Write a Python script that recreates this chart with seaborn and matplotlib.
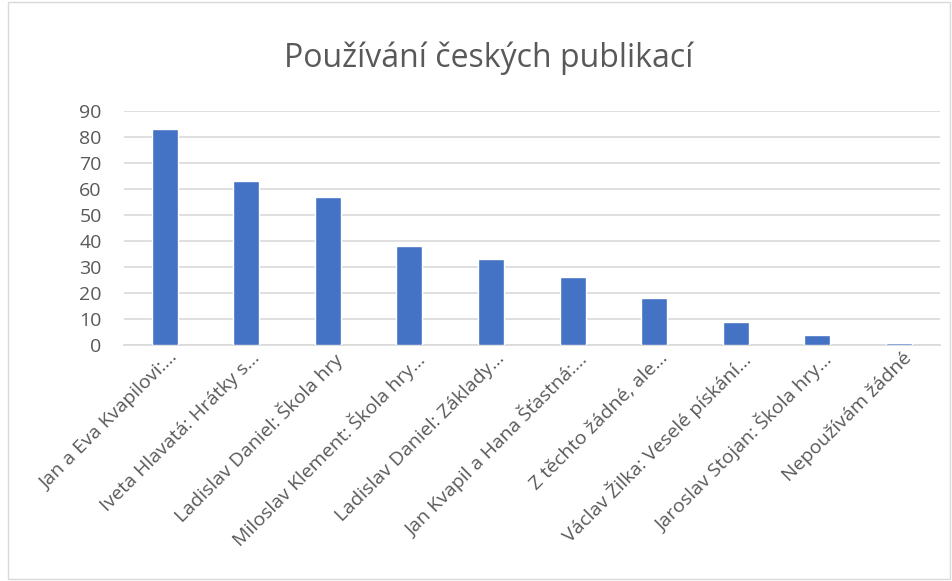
import pandas as pd
import matplotlib.pyplot as plt
import seaborn as sns
from matplotlib.patches import Rectangle
from matplotlib.transforms import ScaledTranslation

# Data
publikace = [
    "Jan a Eva Kvapilovi:…",
    "Iveta Hlavatá: Hrátky s…",
    "Ladislav Daniel: Škola hry",
    "Miloslav Klement: Škola hry…",
    "Ladislav Daniel: Základy…",
    "Jan Kvapil a Hana Šťastná:…",
    "Z těchto žádné, ale…",
    "Václav Žilka: Veselé pískání…",
    "Jaroslav Stojan: Škola hry…",
    "Nepoužívám žádné",
]
pocet = [83, 63, 57, 38, 33, 26, 18, 9, 4, 1]
y_ticks = [0, 10, 20, 30, 40, 50, 60, 70, 80, 90]

df = pd.DataFrame({"publikace": publikace, "pocet": pocet})

sns.set_style("white")
plt.rcParams['font.family'] = ['Open Sans', 'DejaVu Sans']

fig = plt.figure(figsize=(9.53, 5.81), dpi=100)
ax = fig.add_axes([0.130, 0.406, 0.856, 0.403])

sns.barplot(data=df, x="publikace", y="pocet", color="#4472C4",
            width=0.32, saturation=1, ax=ax, zorder=3)

ax.set_ylim(0, 90)
ax.set_xlim(-0.5, 9.5)
ax.set_yticks(y_ticks)
ax.yaxis.grid(True, color="#d9d9d9", linewidth=1.2, zorder=0)
ax.set_axisbelow(True)
for s in ["top", "right", "left"]:
    ax.spines[s].set_visible(False)
ax.spines["bottom"].set_color("#d9d9d9")
ax.spines["bottom"].set_linewidth(1.2)
ax.tick_params(axis="both", length=0, colors="#595959", labelsize=14)
ax.tick_params(axis="y", pad=16)
ax.set_xlabel("")
ax.set_ylabel("")
ax.set_xticks(range(len(publikace)))
ax.set_xticklabels(publikace, rotation=45, ha="right", rotation_mode="anchor")
shift = ScaledTranslation(4 / 100, 4 / 100, fig.dpi_scale_trans)
for lbl in ax.get_xticklabels():
    lbl.set_y(-0.012)
    lbl.set_transform(lbl.get_transform() + shift)

fig.text(0.513, 0.90, "Používání českých publikací", ha="center", va="center",
         fontsize=23, color="#595959")

fig.patches.append(Rectangle((8 / 953, 0.003), 942 / 953, 0.994,
                             transform=fig.transFigure, fill=False,
                             edgecolor="#d9d9d9", linewidth=1))

fig.savefig("out.png", dpi=100)
